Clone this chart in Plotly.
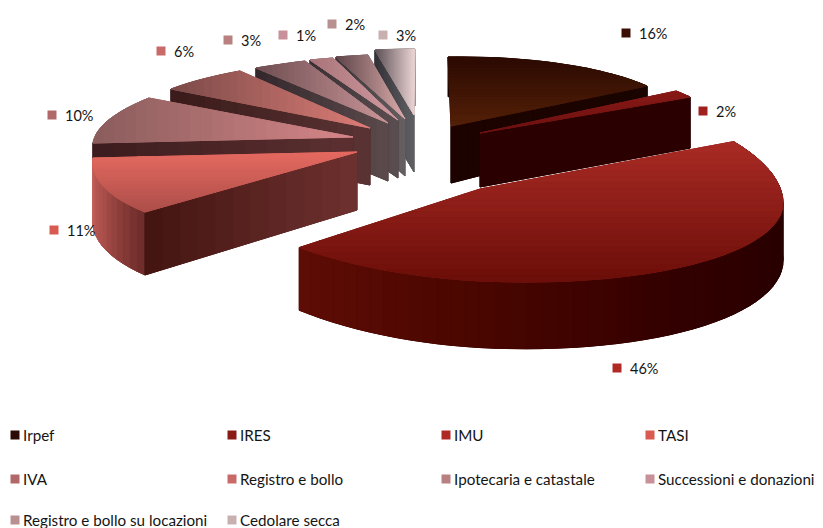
import math
import plotly.graph_objects as go

# ---------- data ----------
categories = ["Irpef", "IRES", "IMU", "TASI", "IVA", "Registro e bollo",
              "Ipotecaria e catastale", "Successioni e donazioni",
              "Registro e bollo su locazioni", "Cedolare secca"]
values = [16, 2, 46, 11, 10, 6, 3, 1, 2, 3]
ROTATION = -8.0  # first slice start angle, degrees clockwise from the back

# ---------- projection of each exploded slice ----------
# apex: top-face centre; spokes: projected radius at the slice's start and end angle
APEX = [(451, 126), (480, 133), (480, 189), (357, 152), (353, 137),
        (370, 128), (388, 123), (398, 120), (405, 119), (414, 115)]
SPOKES = [((-3, -69), (196, -40)), ((196, -42), (210, -36)), None,
          ((-212, 60), (-264, 6)), ((-260, 6), (-204, -39)),
          ((-199, -39), (-130, -57)), ((-132, -55), (-83, -62)),
          ((-88, -60), (-65, -62)), ((-69, -62), (-37, -64)),
          ((-39, -65), (1, -66))]
DEPTH = [(57, .25), (54, .08), (56, .115), (58, .083), (57, 0),
         (57, 0), (58, 0), (58, 0), (57, 0), (57, 0)]
WALL_SIDE = ["end", "end", None, "start", "start", "start", "start", "start", "start", "start"]
DRAW_ORDER = [0, 1, 9, 8, 7, 6, 5, 4, 3, 2]

# ---------- colours ----------
# top gradient: (x0,y0)->(x1,y1), c0->c1
TOP_GRAD = [((0, 57), (0, 126), "#2b0a02", "#542008"),
            ((0, 91), (0, 133), "#8a1a16", "#6a1010"),
            ((0, 141), (0, 280), "#aa2b25", "#6c0e09"),
            ((0, 152), (0, 216), "#e66a60", "#a84c48"),
            ((93, 0), (353, 0), "#8a5c5c", "#d68688"),
            ((171, 0), (368, 0), "#7a4a48", "#dc7c76"),
            ((256, 0), (386, 0), "#6e4e50", "#c89498"),
            ((310, 0), (396, 0), "#a87478", "#d09aa0"),
            ((336, 0), (403, 0), "#5c4448", "#d8a8a8"),
            ((375, 0), (415, 0), "#5a4e54", "#ecd4d4")]
WALL_COL = [("#1a0400", "#1c0300"), ("#2a0000", "#2a0000"), None,
            ("#431410", "#6e3130"), ("#3c1c1e", "#5c3030"), ("#3a1a1a", "#5a3434"),
            ("#33282c", "#5c4a4c"), ("#3a3034", "#5a4e50"), ("#3a3236", "#666062"),
            ("#333036", "#606064")]
ARC_COL = {2: ["#260000", "#280000", "#320000", "#4a0600", "#5e0d05"],
           3: ["#6a2a28", "#a84e4a", "#c8625c"]}
LABEL_COL = ["#3a1005", "#a02020", "#b02a25", "#d85a50", "#b06868",
             "#c86a68", "#b88080", "#c89098", "#b89090", "#c8b0b0"]
LEG_COL = ["#2a0a02", "#8a1a16", "#b02a25", "#d85a50", "#b06868",
           "#c86a68", "#b88080", "#c89098", "#b89090", "#c8b0b0"]

# ---------- label and legend placement ----------
LABEL_POS = [(626, 33), (703, 111), (617, 368), (54, 230), (52, 115),
             (161, 51), (228, 40), (283, 35), (332, 24), (383, 35)]
LEG_COLS = [15, 232, 446, 650]
LEG_ROWS = [435, 479, 520]
TXT = "#141414"
FONT = "Lato, 'Open Sans', sans-serif"


def hex2rgb(h):
    return tuple(int(h[i:i + 2], 16) for i in (1, 3, 5))


def mix(stops, t):
    t = max(0.0, min(1.0, t)) * (len(stops) - 1)
    i = min(int(t), len(stops) - 2)
    f = t - i
    a, b = hex2rgb(stops[i]), hex2rgb(stops[i + 1])
    return "rgb(%d,%d,%d)" % tuple(round(a[k] + (b[k] - a[k]) * f) for k in range(3))


fig = go.Figure()


def poly(pts, color):
    xs = [p[0] for p in pts] + [pts[0][0]]
    ys = [p[1] for p in pts] + [pts[0][1]]
    fig.add_trace(go.Scatter(x=xs, y=ys, mode="lines", fill="toself", fillcolor=color,
                             line=dict(color=color, width=1), hoverinfo="skip",
                             showlegend=False))


def clip(pts, d, lim, keep_above):
    out = []
    n = len(pts)
    for i in range(n):
        p, q = pts[i], pts[(i + 1) % n]
        tp = p[0] * d[0] + p[1] * d[1] - lim
        tq = q[0] * d[0] + q[1] * d[1] - lim
        if not keep_above:
            tp, tq = -tp, -tq
        if tp >= 0:
            out.append(p)
        if tp * tq < 0:
            f = tp / (tp - tq)
            out.append((p[0] + (q[0] - p[0]) * f, p[1] + (q[1] - p[1]) * f))
    return out


def mapper(i, th0, th1):
    ax, ay = APEX[i]
    if SPOKES[i] is None:  # large slice: fitted ellipse, tighter on the near left
        def f(th):
            u, v = math.sin(th), math.cos(th)
            a = 303 if u >= 0 else 268
            d = -108 if v >= 0 else -92
            return ax + a * u, ay + 14 * u + d * v
        return f
    r0, r1 = SPOKES[i]
    u0, v0, u1, v1 = math.sin(th0), math.cos(th0), math.sin(th1), math.cos(th1)
    det = u0 * v1 - u1 * v0
    a = (r0[0] * v1 - r1[0] * v0) / det
    b = (u0 * r1[0] - u1 * r0[0]) / det
    c = (r0[1] * v1 - r1[1] * v0) / det
    d = (u0 * r1[1] - u1 * r0[1]) / det
    return lambda th: (ax + a * math.sin(th) + b * math.cos(th),
                       ay + c * math.sin(th) + d * math.cos(th))


total = sum(values)
cum = 0
angles = []
for val in values:
    a0 = math.radians(ROTATION + cum / total * 360)
    cum += val
    angles.append((a0, math.radians(ROTATION + cum / total * 360)))

for i in DRAW_ORDER:
    th0, th1 = angles[i]
    f = mapper(i, th0, th1)
    ax, ay = APEX[i]
    d0, dy = DEPTH[i]
    down = lambda p: (p[0], p[1] + d0 + dy * (p[1] - ay))
    n_arc = max(6, int(values[i] * 1.2))
    arc = [f(th0 + (th1 - th0) * k / n_arc) for k in range(n_arc + 1)]
    # outer wall: a solid base, then gradient strips
    stops = ARC_COL.get(i)
    base = mix(stops, .5) if stops else WALL_COL[i][0]
    poly(arc + [down(p) for p in reversed(arc)], base)
    if stops:
        for k in range(n_arc):
            poly([arc[k], arc[k + 1], down(arc[k + 1]), down(arc[k])], mix(stops, (k + .5) / n_arc))
    # radial wall
    if WALL_SIDE[i]:
        outer = arc[0] if WALL_SIDE[i] == "start" else arc[-1]
        c_out, c_in = WALL_COL[i]
        poly([outer, (ax, ay), down((ax, ay)), down(outer)], mix([c_out, c_in], .5))
        for k in range(12):
            t0, t1 = k / 12, (k + 1) / 12
            p0 = (outer[0] + (ax - outer[0]) * t0, outer[1] + (ay - outer[1]) * t0)
            p1 = (outer[0] + (ax - outer[0]) * t1, outer[1] + (ay - outer[1]) * t1)
            poly([p0, p1, down(p1), down(p0)], mix([c_out, c_in], (t0 + t1) / 2))
    # top face: a solid base, then bands along its gradient
    top = [(ax, ay)] + arc
    g0, g1, c0, c1 = TOP_GRAD[i]
    poly(top, mix([c0, c1], .5))
    gx, gy = g1[0] - g0[0], g1[1] - g0[1]
    L = math.hypot(gx, gy)
    dirn = (gx / L, gy / L)
    start = g0[0] * dirn[0] + g0[1] * dirn[1]
    vals = [p[0] * dirn[0] + p[1] * dirn[1] for p in top]
    lo, hi = min(vals), max(vals)
    N = 24
    for k in range(N):
        a, b = lo + (hi - lo) * k / N, lo + (hi - lo) * (k + 1) / N
        piece = clip(clip(top, dirn, a, True), dirn, b, False)
        if len(piece) >= 3:
            poly(piece, mix([c0, c1], ((a + b) / 2 - start) / L))

# data labels
fig.add_trace(go.Scatter(x=[p[0] for p in LABEL_POS], y=[p[1] for p in LABEL_POS], mode="markers",
                         marker=dict(symbol="square", size=9, color=LABEL_COL),
                         hoverinfo="skip", showlegend=False))
annotations = []
for val, (x, y) in zip(values, LABEL_POS):
    annotations.append(dict(x=x + 11, y=y, xref="x", yref="y", text=f"{val}%", showarrow=False,
                            xanchor="left", yanchor="middle", font=dict(family=FONT, size=14.5, color=TXT)))

# legend (four columns)
leg_x, leg_y = [], []
for k, name in enumerate(categories):
    x = LEG_COLS[k % 4]
    y = LEG_ROWS[k // 4]
    leg_x.append(x)
    leg_y.append(y)
    annotations.append(dict(x=x + 5.5, y=y, xref="x", yref="y", text=name, showarrow=False,
                            xanchor="left", yanchor="middle", font=dict(family=FONT, size=15.2, color=TXT)))
fig.add_trace(go.Scatter(x=leg_x, y=leg_y, mode="markers",
                         marker=dict(symbol="square", size=9, color=LEG_COL),
                         hoverinfo="skip", showlegend=False))

fig.update_layout(width=823, height=528, autosize=False, margin=dict(l=0, r=0, t=0, b=0),
                  paper_bgcolor="white", plot_bgcolor="white", showlegend=False,
                  annotations=annotations,
                  xaxis=dict(range=[0, 823], visible=False, fixedrange=True),
                  yaxis=dict(range=[528, 0], visible=False, fixedrange=True))
fig.write_html("out.html", config={"displayModeBar": False},
               post_script="document.body.style.margin='0';document.body.style.overflow='hidden';")
